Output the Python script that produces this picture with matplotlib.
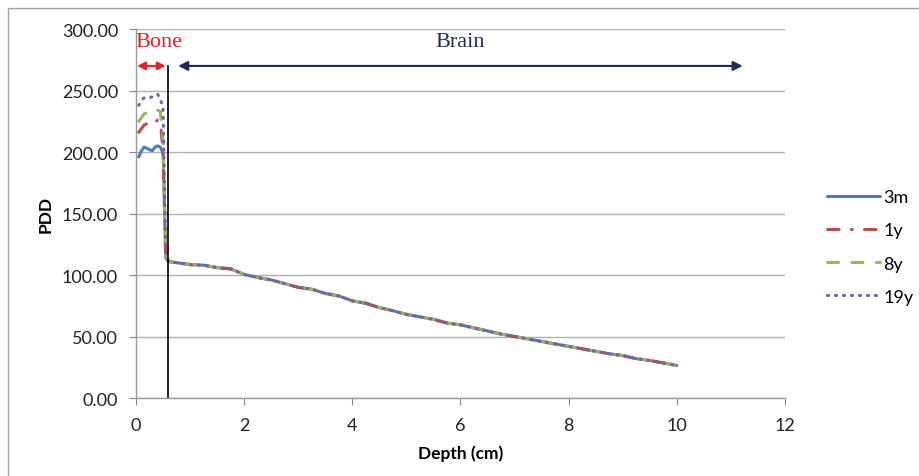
import numpy as np
import matplotlib
matplotlib.use('Agg')
import matplotlib.pyplot as plt
from matplotlib.patches import Rectangle

# depth values in the bone layer (cm)
depth_bone = [0.05, 0.1, 0.15, 0.2, 0.25, 0.3, 0.35, 0.4, 0.45, 0.5, 0.55]
pdd_3m_bone = [196, 201, 204, 203, 202, 201, 204, 205, 204, 199, 114]
pdd_1y_bone = [216, 219, 222, 223, 222, 222, 224, 226, 225, 200, 115]
pdd_8y_bone = [225, 228, 231, 232, 231, 231, 232, 234, 233, 210, 116]
pdd_19y_bone = [238, 242, 244, 244, 244, 245, 246, 247, 243, 236, 118]

# brain part, all ages practically the same
depth_brain = [0.6, 0.75, 1.0, 1.25, 1.5, 1.75, 2.0, 2.25, 2.5, 2.75, 3.0, 3.25, 3.5,
               3.75, 4.0, 4.25, 4.5, 4.75, 5.0, 5.25, 5.5, 5.75, 6.0, 6.25, 6.5,
               6.75, 7.0, 7.25, 7.5, 7.75, 8.0, 8.25, 8.5, 8.75, 9.0, 9.25, 9.5,
               9.75, 10.0]
pdd_brain = [111, 110, 108.5, 108, 106, 105, 100.5, 98, 96, 93, 90, 88.5, 85,
             83, 79, 77, 73.5, 71, 68, 66, 64, 61, 59.5, 57, 54.5,
             52, 50, 48, 46, 44, 42, 40, 38, 36, 34.5, 32, 30.5,
             28.5, 26.5]

labels = ['3m', '1y', '8y', '19y']
colors = ['#4a7ebb', '#be4b48', '#98b954', '#7d60a0']
styles = [None, (0, (3.8, 4, 0.3, 4)), (0, (3.6, 4.4)), (0, (0.4, 2.2))]
bone_series = [pdd_3m_bone, pdd_1y_bone, pdd_8y_bone, pdd_19y_bone]

bone_edge = 0.6
arrow_y = 270
label_y = 290

plt.rcParams['font.family'] = ['Lato', 'DejaVu Sans']

fig = plt.figure(figsize=(9.19, 4.77), dpi=100)
ax = fig.add_axes([0.148, 0.1635, 0.706, 0.7735])

for lab, col, ls, bone in zip(labels, colors, styles, bone_series):
    x = depth_bone + depth_brain
    y = bone + pdd_brain
    if ls is None:
        ax.plot(x, y, color=col, lw=2.2, label=lab, solid_capstyle='round')
    else:
        ax.plot(x, y, color=col, lw=2.2, linestyle=ls, label=lab,
                dash_capstyle='round')

# bone / brain boundary
ax.plot([bone_edge, bone_edge], [0, arrow_y], color='black', lw=1.2)
ax.annotate('', xy=(0.02, arrow_y), xytext=(0.55, arrow_y),
            arrowprops=dict(arrowstyle='<|-|>', color='#ee1c24', lw=1.5,
                            mutation_scale=12, shrinkA=0, shrinkB=0))
ax.annotate('', xy=(0.78, arrow_y), xytext=(11.22, arrow_y),
            arrowprops=dict(arrowstyle='<|-|>', color='#1f2a5c', lw=1.5,
                            mutation_scale=14, shrinkA=0, shrinkB=0))
ax.text(0.42, label_y, 'Bone', color='#ee1c24', fontsize=16,
        family='Liberation Serif', ha='center', va='center')
ax.text(6.0, label_y, 'Brain', color='#1f2a5c', fontsize=16,
        family='Liberation Serif', ha='center', va='center')

ax.set_xlim(0, 12)
ax.set_ylim(0, 300)
ax.set_xticks(np.arange(0, 13, 2))
ax.set_yticks(np.arange(0, 301, 50))
ax.set_yticklabels([f'{v:.2f}' for v in np.arange(0, 301, 50)])
ax.tick_params(labelsize=13, length=5, color='#888888', labelcolor='#222222')
ax.tick_params(axis='y', pad=8)
ax.tick_params(axis='x', pad=8.5)
ax.yaxis.grid(True, color='#b0b0b0', lw=1)
ax.set_axisbelow(True)
for s in ['top', 'right']:
    ax.spines[s].set_visible(False)
for s in ['left', 'bottom']:
    ax.spines[s].set_color('#999999')
    ax.spines[s].set_linewidth(1)

ax.set_xlabel('Depth (cm)', fontsize=12.5, fontweight='bold', labelpad=8.5)
ax.set_ylabel('PDD', fontsize=12.5, fontweight='bold', labelpad=6)

ax.legend(loc='center left', bbox_to_anchor=(0.8825, 0.48),
          bbox_transform=fig.transFigure, frameon=False, fontsize=13,
          handlelength=2.9, labelspacing=0.95, handletextpad=0.2)

# outer frame of the original picture
fig.patches.append(Rectangle((8 / 919, -0.1), 1.1, 1.1 - 9 / 477 + 0.001,
                             transform=fig.transFigure, fill=False,
                             edgecolor='#a0a0a0', lw=1))

fig.savefig('out.png', dpi=100)
